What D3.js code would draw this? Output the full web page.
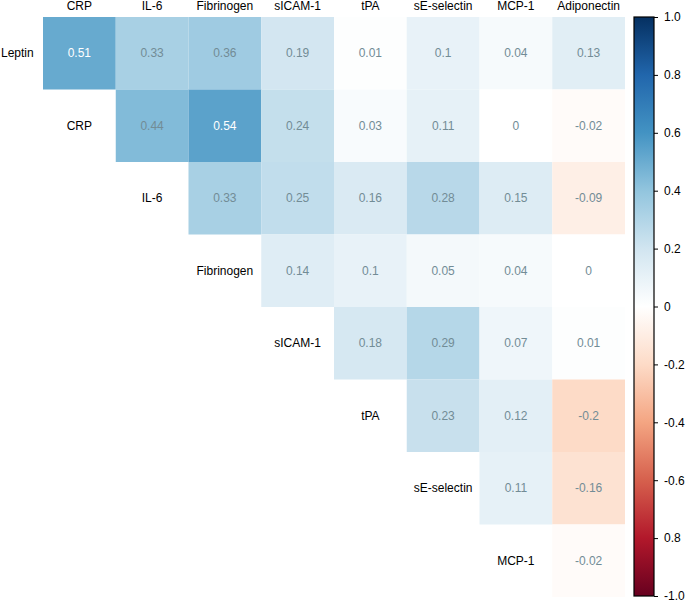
<!DOCTYPE html>
<html>
<head>
<meta charset="utf-8">
<script src="https://cdn.jsdelivr.net/npm/d3@7"></script>
<style>
  body { margin: 0; background: #fff; }
  svg text { font-family: "Liberation Sans", Arial, Helvetica, sans-serif; }
</style>
</head>
<body>
<div id="chart"></div>
<script>
var cols = ["CRP", "IL-6", "Fibrinogen", "sICAM-1", "tPA", "sE-selectin", "MCP-1", "Adiponectin"];
var rows = ["Leptin", "CRP", "IL-6", "Fibrinogen", "sICAM-1", "tPA", "sE-selectin", "MCP-1"];

// upper triangle, each row starts at the column under its own name
var leptin     = [0.51, 0.33, 0.36, 0.19, 0.01, 0.1, 0.04, 0.13];
var crp        = [0.44, 0.54, 0.24, 0.03, 0.11, 0, -0.02];
var il6        = [0.33, 0.25, 0.16, 0.28, 0.15, -0.09];
var fibrinogen = [0.14, 0.1, 0.05, 0.04, 0];
var sicam1     = [0.18, 0.29, 0.07, 0.01];
var tpa        = [0.23, 0.12, -0.2];
var seselectin = [0.11, -0.16];
var mcp1       = [-0.02];

var rowValues = [leptin, crp, il6, fibrinogen, sicam1, tpa, seselectin, mcp1];

var barTicks  = [1, 0.8, 0.6, 0.4, 0.2, 0, -0.2, -0.4, -0.6, -0.8, -1];
var barLabels = ["1.0", "0.8", "0.6", "0.4", "0.2", "0", "-0.2", "-0.4", "-0.6", "0.8", "-1.0"];

// red-white-blue ramp, white in the middle
var palette = ["#67001F", "#B2182B", "#D6604D", "#F4A582", "#FDDBC7", "#FFFFFF",
               "#D1E5F0", "#92C5DE", "#4393C3", "#2166AC", "#053061"];

var width = 685, height = 603;

var svg = d3.select("#chart").append("svg")
  .attr("width", width)
  .attr("height", height);

var x = d3.scaleBand().domain(cols).range([43, 625]);
var y = d3.scaleBand().domain(rows).range([17, 597]);

var color = d3.scaleLinear()
  .domain(d3.range(palette.length).map(function(i) { return -1 + 2 * i / (palette.length - 1); }))
  .range(palette)
  .interpolate(d3.interpolateRgb);

var cells = [];
rowValues.forEach(function(vals, r) {
  vals.forEach(function(v, i) {
    cells.push({ row: rows[r], col: cols[r + i], value: v });
  });
});

svg.append("g")
  .selectAll("rect")
  .data(cells)
  .enter().append("rect")
  .attr("x", function(d) { return x(d.col); })
  .attr("y", function(d) { return y(d.row); })
  .attr("width", x.bandwidth())
  .attr("height", y.bandwidth())
  .style("fill", function(d) { return color(d.value); });

svg.append("g")
  .selectAll("text")
  .data(cells)
  .enter().append("text")
  .attr("x", function(d) { return x(d.col) + x.bandwidth() / 2; })
  .attr("y", function(d) { return y(d.row) + y.bandwidth() / 2; })
  .attr("dy", ".35em")
  .attr("text-anchor", "middle")
  .style("font-size", "12px")
  .style("fill", function(d) { return Math.abs(d.value) > 0.5 ? "#ffffff" : "#728c96"; })
  .text(function(d) { return String(d.value); });

// column labels along the top
svg.append("g")
  .selectAll("text")
  .data(cols)
  .enter().append("text")
  .attr("x", function(d) { return x(d) + x.bandwidth() / 2; })
  .attr("y", 10)
  .attr("text-anchor", "middle")
  .style("font-size", "12px")
  .style("fill", "#000")
  .text(function(d) { return d; });

// row labels sit on the diagonal, one cell left of the row's first value
svg.append("g")
  .selectAll("text")
  .data(rows)
  .enter().append("text")
  .attr("x", function(d, i) { return i === 0 ? 1 : x(cols[i - 1]) + x.bandwidth() / 2; })
  .attr("y", function(d) { return y(d) + y.bandwidth() / 2; })
  .attr("dy", ".35em")
  .attr("text-anchor", function(d, i) { return i === 0 ? "start" : "middle"; })
  .style("font-size", "12px")
  .style("fill", "#000")
  .text(function(d) { return d; });

// colour bar
var barX = 634, barW = 20;
var yBar = d3.scaleLinear().domain([-1, 1]).range([596, 17]);

var grad = svg.append("defs").append("linearGradient")
  .attr("id", "rdbu")
  .attr("x1", "0%").attr("y1", "100%")
  .attr("x2", "0%").attr("y2", "0%");

grad.selectAll("stop")
  .data(palette)
  .enter().append("stop")
  .attr("offset", function(c, i) { return (i * 100 / (palette.length - 1)) + "%"; })
  .attr("stop-color", function(c) { return c; });

svg.append("rect")
  .attr("x", barX)
  .attr("y", yBar(1))
  .attr("width", barW)
  .attr("height", yBar(-1) - yBar(1))
  .style("fill", "url(#rdbu)")
  .style("stroke", "#000")
  .style("stroke-width", 1.2);

var axis = svg.append("g")
  .attr("transform", "translate(" + (barX + barW) + ",0)")
  .call(d3.axisRight(yBar)
    .tickValues(barTicks)
    .tickSize(4)
    .tickPadding(6)
    .tickFormat(function(d, i) { return barLabels[i]; }));

axis.select(".domain").remove();
axis.selectAll("line").style("stroke", "#000");
axis.selectAll("text")
  .style("font-size", "12px")
  .style("fill", "#000")
  .style("font-family", "'Liberation Sans', Arial, sans-serif");
</script>
</body>
</html>
